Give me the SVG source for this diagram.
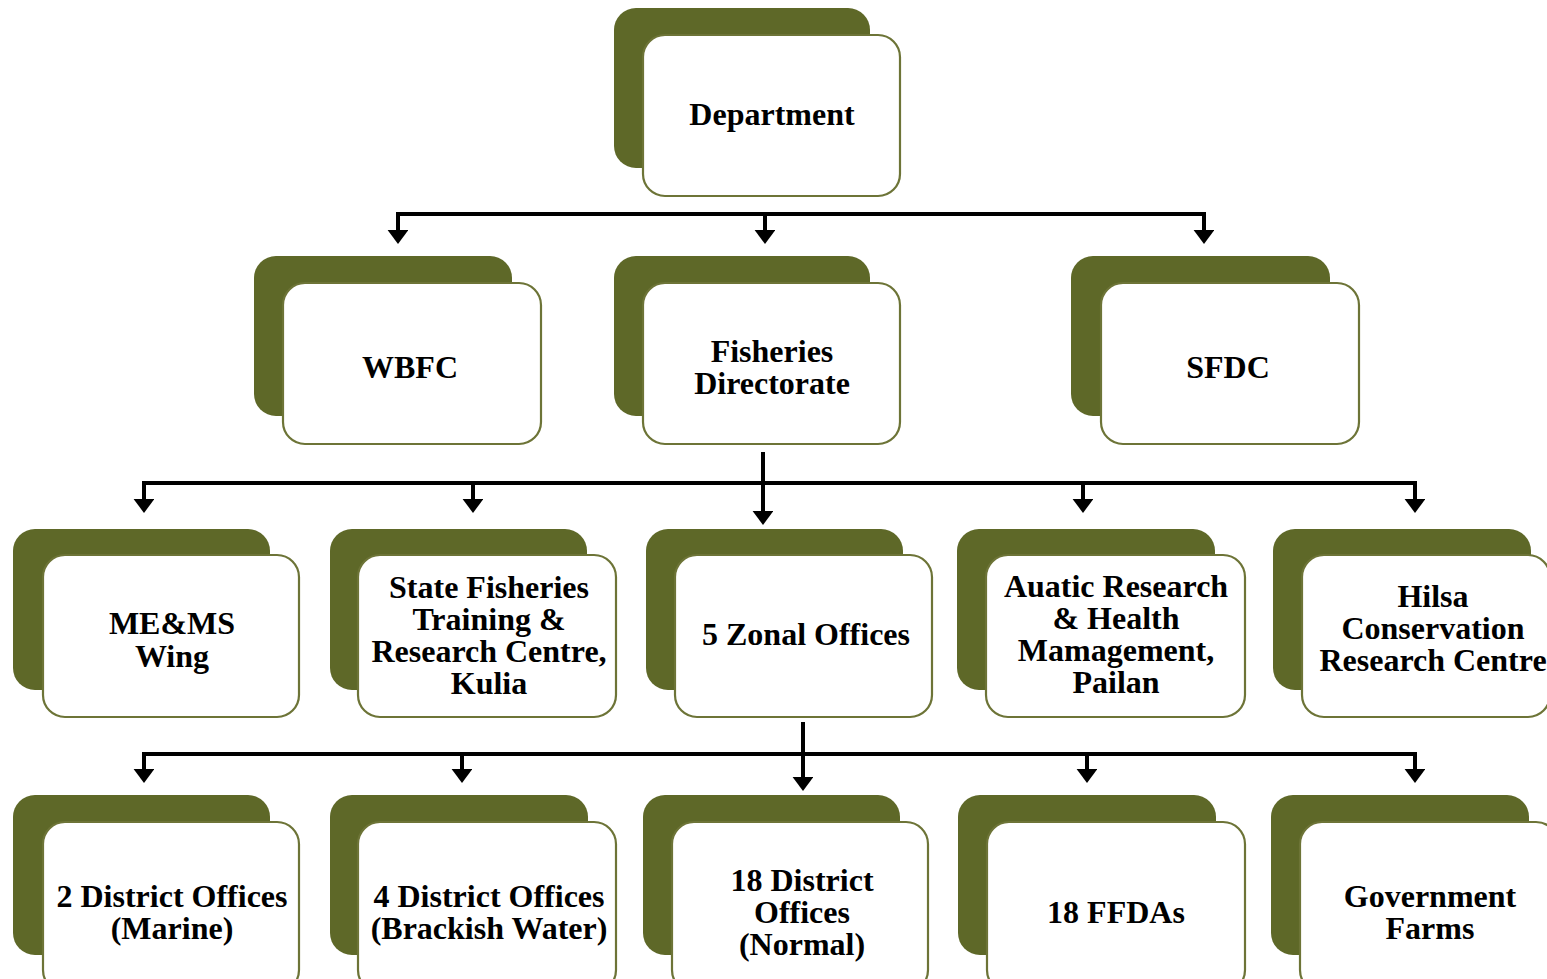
<svg xmlns="http://www.w3.org/2000/svg" width="1547" height="979" viewBox="0 0 1547 979">
<defs>
<style>
.back{fill:#5e6828;}
.front{fill:#ffffff;stroke:#6d7437;stroke-width:2.2;}
.t{font-family:"Liberation Serif","Times New Roman",serif;font-weight:bold;font-size:32px;fill:#000;text-anchor:middle;}
.ln{stroke:#000;stroke-width:4;fill:none;}
</style>
<marker id="ah" markerWidth="6" markerHeight="6" refX="0.5" refY="2.6" orient="auto" markerUnits="strokeWidth"><path d="M0,0 L3.5,2.6 L0,5.2 Z" fill="#000"/></marker>
</defs>
<rect width="1547" height="979" fill="#ffffff"/>
<g id="connectors">
<path class="ln" d="M398,214 H1205"/>
<path class="ln" d="M398,212 V232" marker-end="url(#ah)"/>
<path class="ln" d="M765,212 V232" marker-end="url(#ah)"/>
<path class="ln" d="M1204,212 V232" marker-end="url(#ah)"/>
<path class="ln" d="M144,483 H1416"/>
<path class="ln" d="M763,452 V513" marker-end="url(#ah)"/>
<path class="ln" d="M144,481 V501" marker-end="url(#ah)"/>
<path class="ln" d="M473,481 V501" marker-end="url(#ah)"/>
<path class="ln" d="M1083,481 V501" marker-end="url(#ah)"/>
<path class="ln" d="M1415,481 V501" marker-end="url(#ah)"/>
<path class="ln" d="M144,754 H1416"/>
<path class="ln" d="M803,722 V779" marker-end="url(#ah)"/>
<path class="ln" d="M144,752 V771" marker-end="url(#ah)"/>
<path class="ln" d="M462,752 V771" marker-end="url(#ah)"/>
<path class="ln" d="M1087,752 V771" marker-end="url(#ah)"/>
<path class="ln" d="M1415,752 V771" marker-end="url(#ah)"/>
</g>
<g id="department">
<rect class="back" x="614" y="8" width="256" height="160" rx="22"/>
<rect class="front" x="643" y="35" width="257" height="161" rx="22"/>
<text class="t" x="772" y="125">Department</text>
</g>
<g id="wbfc">
<rect class="back" x="254" y="256" width="258" height="160" rx="22"/>
<rect class="front" x="283" y="283" width="258" height="161" rx="22"/>
<text class="t" x="410" y="378">WBFC</text>
</g>
<g id="fisheries-directorate">
<rect class="back" x="614" y="256" width="256" height="160" rx="22"/>
<rect class="front" x="643" y="283" width="257" height="161" rx="22"/>
<text class="t" x="772" y="362">Fisheries</text>
<text class="t" x="772" y="394">Directorate</text>
</g>
<g id="sfdc">
<rect class="back" x="1071" y="256" width="259" height="160" rx="22"/>
<rect class="front" x="1101" y="283" width="258" height="161" rx="22"/>
<text class="t" x="1228" y="378">SFDC</text>
</g>
<g id="memswing">
<rect class="back" x="13" y="529" width="257" height="161" rx="22"/>
<rect class="front" x="43" y="555" width="256" height="162" rx="22"/>
<text class="t" x="172" y="634">ME&amp;MS</text>
<text class="t" x="172" y="667">Wing</text>
</g>
<g id="state-fisheries">
<rect class="back" x="330" y="529" width="257" height="161" rx="22"/>
<rect class="front" x="358" y="555" width="258" height="162" rx="22"/>
<text class="t" x="489" y="598">State Fisheries</text>
<text class="t" x="489" y="630">Training &amp;</text>
<text class="t" x="489" y="662">Research Centre,</text>
<text class="t" x="489" y="694">Kulia</text>
</g>
<g id="zonal-offices">
<rect class="back" x="646" y="529" width="257" height="161" rx="22"/>
<rect class="front" x="675" y="555" width="257" height="162" rx="22"/>
<text class="t" x="806" y="645">5 Zonal Offices</text>
</g>
<g id="auatic-research">
<rect class="back" x="957" y="529" width="258" height="161" rx="22"/>
<rect class="front" x="986" y="555" width="259" height="162" rx="22"/>
<text class="t" x="1116" y="597">Auatic Research</text>
<text class="t" x="1116" y="629">&amp; Health</text>
<text class="t" x="1116" y="661">Mamagement,</text>
<text class="t" x="1116" y="693">Pailan</text>
</g>
<g id="hilsa">
<rect class="back" x="1273" y="529" width="258" height="161" rx="22"/>
<rect class="front" x="1302" y="555" width="248" height="162" rx="22"/>
<text class="t" x="1433" y="607">Hilsa</text>
<text class="t" x="1433" y="639">Conservation</text>
<text class="t" x="1433" y="671">Research Centre</text>
</g>
<g id="district-marine">
<rect class="back" x="13" y="795" width="257" height="160" rx="22"/>
<rect class="front" x="43" y="822" width="256" height="170" rx="22"/>
<text class="t" x="172" y="907">2 District Offices</text>
<text class="t" x="172" y="939">(Marine)</text>
</g>
<g id="district-brackish">
<rect class="back" x="330" y="795" width="258" height="160" rx="22"/>
<rect class="front" x="358" y="822" width="258" height="170" rx="22"/>
<text class="t" x="489" y="907">4 District Offices</text>
<text class="t" x="489" y="939">(Brackish Water)</text>
</g>
<g id="district-normal">
<rect class="back" x="643" y="795" width="257" height="160" rx="22"/>
<rect class="front" x="672" y="822" width="256" height="170" rx="22"/>
<text class="t" x="802" y="891">18 District</text>
<text class="t" x="802" y="923">Offices</text>
<text class="t" x="802" y="955">(Normal)</text>
</g>
<g id="ffdas">
<rect class="back" x="958" y="795" width="258" height="160" rx="22"/>
<rect class="front" x="987" y="822" width="258" height="170" rx="22"/>
<text class="t" x="1116" y="923">18 FFDAs</text>
</g>
<g id="government-farms">
<rect class="back" x="1271" y="795" width="258" height="160" rx="22"/>
<rect class="front" x="1300" y="822" width="258" height="170" rx="22"/>
<text class="t" x="1430" y="907">Government</text>
<text class="t" x="1430" y="939">Farms</text>
</g>
</svg>
